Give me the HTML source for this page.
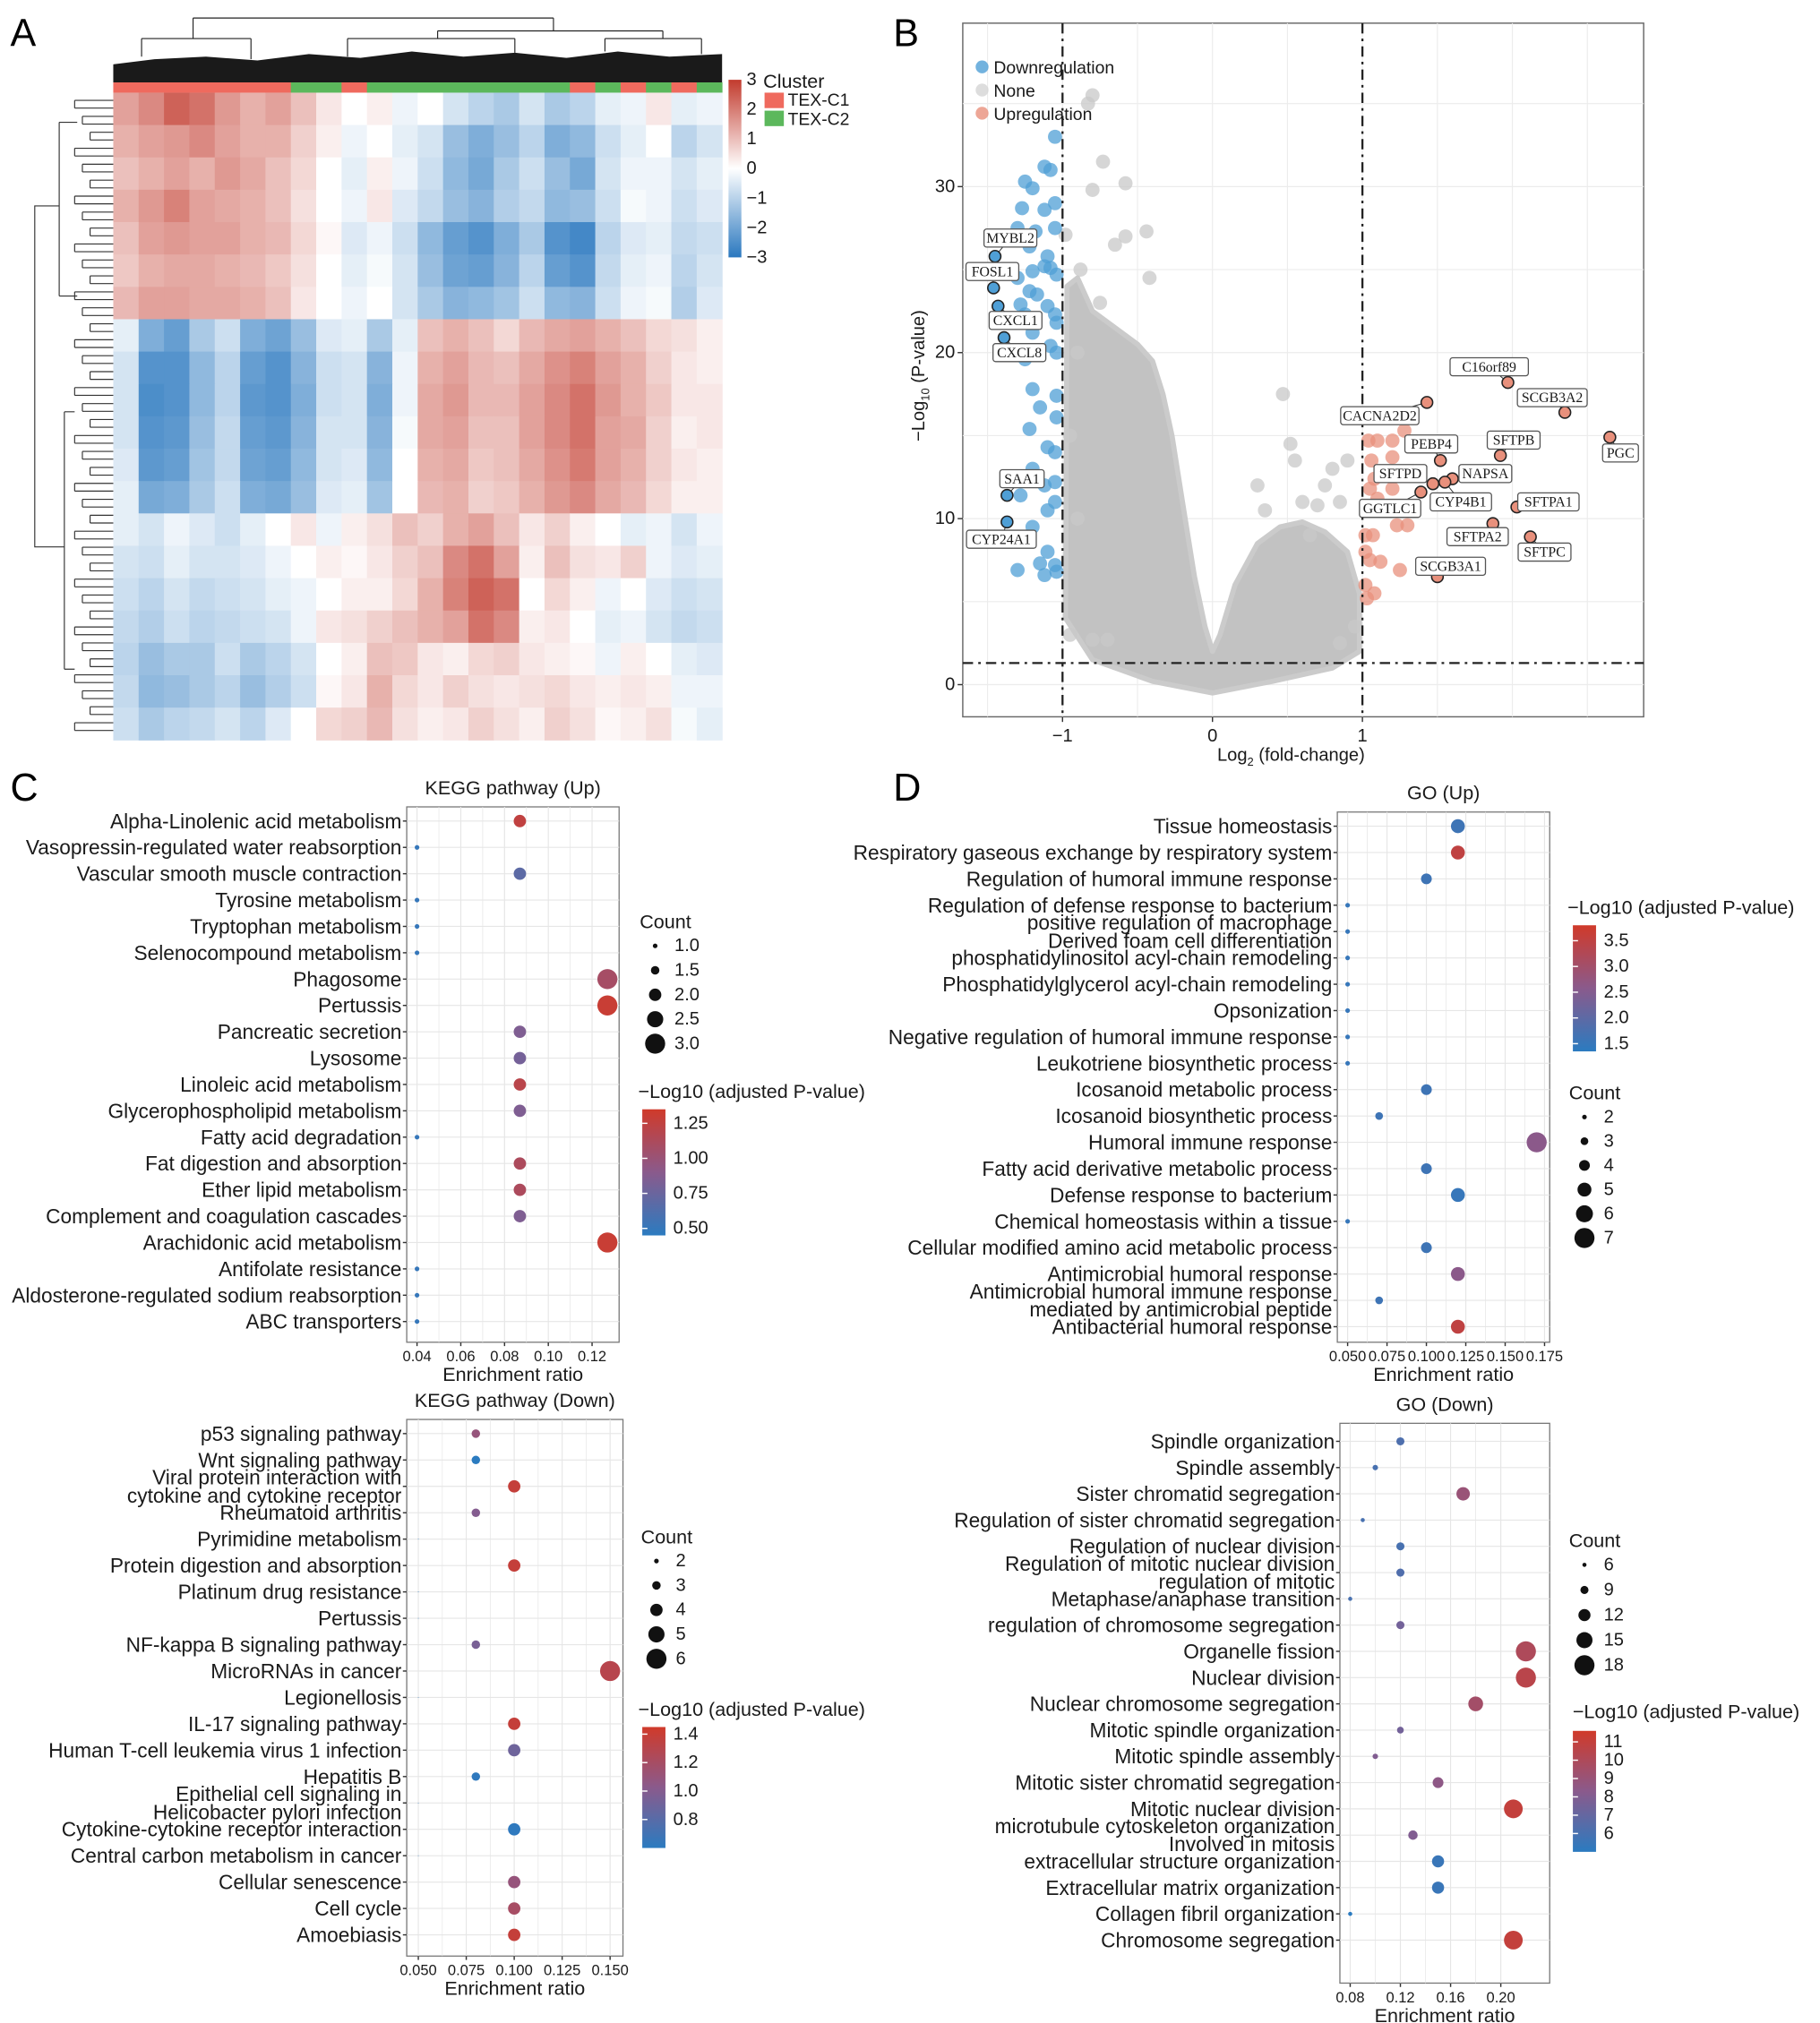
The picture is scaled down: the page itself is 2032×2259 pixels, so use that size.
<!DOCTYPE html>
<html><head><meta charset="utf-8"><title>Figure</title>
<style>
html,body{margin:0;padding:0;background:#fff;}
svg{display:block;font-family:"Liberation Sans",Arial,sans-serif;}
</style></head>
<body>
<svg id="fig" xmlns="http://www.w3.org/2000/svg" width="2032" height="2259" viewBox="0 0 1414 1572" preserveAspectRatio="none">
<defs>
<linearGradient id="hmGrad" x1="0" y1="0" x2="0" y2="1"><stop offset="0" stop-color="#c23b2e"/><stop offset="0.5" stop-color="#ffffff"/><stop offset="1" stop-color="#2a78bf"/></linearGradient>
<linearGradient id="dotGrad" x1="0" y1="0" x2="0" y2="1"><stop offset="0" stop-color="#d03a2a"/><stop offset="0.5" stop-color="#8a5a8c"/><stop offset="1" stop-color="#2b7bc0"/></linearGradient>
</defs>
<text x="8" y="36" font-size="30">A</text>
<text x="694" y="36" font-size="30">B</text>
<text x="8" y="622" font-size="30">C</text>
<text x="694" y="622" font-size="30">D</text>
</svg>
<script>
// ---------------- DATA ----------------
const hmRows = [
[1.2,1.5,2,1.8,1.3,1,1.2,0.8,0.3,0,0.2,-0.2,0,-0.5,-0.8,-1,-0.5,-1,-0.8,-0.3,-0.2,0.3,-0.3,-0.2],
[1,1.2,1.3,1.5,1.2,1,1,0.6,0.2,-0.2,0,-0.3,-0.5,-1.2,-1.5,-1.2,-0.8,-1.5,-1.3,-0.6,-0.3,0,-0.8,-0.5],
[0.8,1,1.2,1,1.3,1.1,0.8,0.5,0,-0.3,0.2,-0.2,-0.6,-1.3,-1.6,-1,-0.6,-1.2,-1.6,-0.5,-0.2,-0.2,-0.5,-0.3],
[1,1.3,1.6,1.2,1.1,1,0.8,0.4,0,-0.2,0.3,-0.4,-0.7,-1.2,-1.4,-0.9,-0.7,-1.3,-1.2,-0.6,-0.1,-0.2,-0.6,-0.4],
[0.8,1.2,1.3,1.2,1.2,1,0.9,0.5,0.1,-0.4,-0.2,-0.6,-1.3,-1.8,-2,-1.5,-1,-2,-2.2,-0.8,-0.4,-0.3,-0.7,-0.6],
[0.7,1,1.1,1.1,1,0.9,0.7,0.4,0,-0.3,-0.1,-0.5,-1.2,-1.7,-1.8,-1.4,-0.8,-1.8,-2,-0.7,-0.3,-0.2,-0.8,-0.5],
[0.9,1.2,1.2,1.1,1.1,1,0.8,0.3,0,-0.2,0,-0.5,-1,-1.4,-1.3,-1.1,-0.6,-1.3,-1.4,-0.6,-0.2,-0.1,-0.9,-0.4],
[-0.3,-1.5,-1.8,-1,-0.6,-1.5,-1.7,-1.2,-0.4,-0.3,-1,-0.3,0.8,1,0.8,0.5,0.9,1.1,1.2,1,0.8,0.5,0.4,0.2],
[-0.5,-2,-2,-1.3,-0.8,-1.8,-2,-1.4,-0.6,-0.5,-1.4,-0.2,1,1.2,0.9,0.8,1.1,1.4,1.6,1.2,1,0.6,0.3,0.2],
[-0.5,-2.1,-2,-1.3,-0.8,-1.9,-2,-1.5,-0.6,-0.5,-1.5,-0.2,1.1,1.3,0.9,0.9,1.2,1.5,1.8,1.3,1,0.7,0.3,0.3],
[-0.5,-2,-1.9,-1.2,-0.7,-1.8,-1.9,-1.4,-0.5,-0.5,-1.4,-0.1,1.1,1.2,0.8,0.8,1.2,1.5,1.8,1.2,1.1,0.6,0.2,0.3],
[-0.4,-1.9,-1.8,-1.1,-0.7,-1.7,-1.8,-1.3,-0.5,-0.4,-1.3,0,1,1.1,0.7,0.8,1.1,1.4,1.7,1.2,1,0.6,0.3,0.2],
[-0.3,-1.6,-1.5,-1,-0.6,-1.5,-1.6,-1.2,-0.4,-0.3,-1.1,0,0.9,1,0.6,0.7,1,1.3,1.5,1.1,0.9,0.5,0.2,0.2],
[-0.3,-0.5,-0.2,-0.4,-0.6,-0.3,0,0.3,-0.2,0.2,0.4,0.8,0.6,1,1.2,0.8,0.3,0.6,0.2,0,-0.3,-0.2,-0.5,-0.2],
[-0.5,-0.6,-0.3,-0.5,-0.5,-0.4,-0.2,0,0.2,0.1,0.3,0.6,0.8,1.5,1.8,1.2,0.2,0.8,0.4,0.3,0.6,-0.2,-0.4,-0.3],
[-0.6,-0.8,-0.5,-0.7,-0.6,-0.5,-0.3,-0.2,0,0.2,0.2,0.5,1,1.6,2,1.8,0,0.5,0.2,-0.2,0,-0.4,-0.6,-0.5],
[-0.7,-0.9,-0.6,-0.8,-0.7,-0.6,-0.5,-0.2,0.3,0.4,0.6,0.8,1,1.2,1.8,1.5,0.2,0.3,0,-0.3,-0.2,-0.5,-0.7,-0.6],
[-0.8,-1.2,-1,-1,-0.6,-1,-0.8,-0.5,0,0.2,0.8,0.7,0.3,0.2,0.5,0.6,0.3,0.2,0.1,-0.2,0.2,0,-0.3,-0.4],
[-0.7,-1.3,-1.2,-1,-0.8,-1.2,-0.9,-0.6,0.1,0.3,1,0.5,0.3,0.6,0.4,0.3,0.4,0.5,0.3,0.2,0.3,0.2,-0.2,-0.2],
[-0.6,-1,-0.8,-0.7,-0.5,-0.8,-0.4,0,0.5,0.6,0.9,0.4,0.2,0.3,0.6,0.4,0.2,0.6,0.4,0.1,0.2,0.4,-0.1,-0.3]
];
const hmCluster = [1,1,1,1,1,1,1,2,2,1,2,2,2,2,2,2,2,2,1,2,1,2,1,2];
const hmScaleTicks = ["3","2","1","0","\u22121","\u22122","\u22123"];

const vDownX = [-1.05,-1.12,-1.08,-1.25,-1.2,-1.27,-1.12,-1.05,-1.3,-1.18,-1.05,-1.22,-1.1,-1.12,-1.08,-1.2,-1.3,-1.22,-1.17,-1.04,-1.1,-1.28,-1.25,-1.05,-1.2,-1.04,-1.08,-1.25,-1.04,-1.2,-1.04,-1.15,-1.04,-1.22,-1.1,-1.05,-1.2,-1.12,-1.05,-1.28,-1.1,-1.05,-1.2,-1.1,-1.05,-1.15,-1.3,-1.12,-1.04];
const vDownY = [33,31.2,31,30.3,29.9,28.7,28.6,29,27.5,27.3,27.5,26.4,25.8,25.2,25.1,24.9,24.5,23.7,23.5,24.7,22.8,22.9,22.3,22.3,21.2,21.8,20.4,19.6,20,17.8,17.4,16.7,16.1,15.4,14.3,14,13,12,12.2,11.4,10.5,11,9.5,8,7.2,7.3,6.9,6.6,6.8];
const vUpX = [1.04,1.1,1.2,1.28,1.06,1.2,1.08,1.05,1.2,1.1,1.23,1.3,1.02,1.07,1.02,1.05,1.12,1.25,1.02,1.03,1.08];
const vUpY = [14.7,14.7,14.7,15.3,13.5,13.7,12.4,11.8,11.8,11.2,9.6,9.6,9,9,8,7.5,7.4,6.9,6,5.2,5.5];
const vNoneX = [-0.8,-0.83,-0.98,-0.73,-0.58,-0.8,-0.44,-0.58,-0.65,-0.42,0.47,0.52,0.55,0.9,0.8,0.6,0.7,0.35,0.85,-0.95,0.95,0.85,-0.7,-0.8,-0.9,-0.95,-0.9,0.3,-0.88,-0.75,0.65,0.75];
const vNoneY = [35.5,35,27.1,31.5,30.2,29.8,27.3,27,26.5,24.5,17.5,14.5,13.5,13.5,13,11,10.8,10.5,11,3,3.5,2.5,2.7,2.7,10,15,20,12,25,23,9,12];
const vCloudX = [-0.97,-0.9,-0.8,-0.65,-0.5,-0.4,-0.33,-0.27,-0.2,-0.12,-0.05,0,0.05,0.15,0.3,0.45,0.6,0.75,0.9,0.98,0.98,0.8,0.4,0,-0.4,-0.8,-0.98];
const vCloudY = [24,24.5,22.5,21.5,20.5,19.5,17.5,15,11,6.5,3.5,2,3,6,8.5,9.5,9.8,9.2,8,5.5,2,1,0.2,-0.5,0.2,1.5,4];
const vLabGenes = ["MYBL2","FOSL1","CXCL1","CXCL8","SAA1","CYP24A1","C16orf89","SCGB3A2","CACNA2D2","PGC","SFTPB","PEBP4","NAPSA","SFTPD","CYP4B1","GGTLC1","SFTPA1","SFTPA2","SFTPC","SCGB3A1"];
const vLabX = [-1.45,-1.46,-1.43,-1.39,-1.37,-1.37,1.97,2.35,1.43,2.65,1.92,1.52,1.6,1.47,1.55,1.39,2.03,1.87,2.12,1.5];
const vLabY = [25.8,23.9,22.8,20.9,11.4,9.8,18.2,16.4,17.0,14.9,13.8,13.5,12.4,12.1,12.2,11.6,10.7,9.7,8.9,6.5];
const vLabDir = [-1,-1,-1,-1,-1,-1,1,1,1,1,1,1,1,1,1,1,1,1,1,1];
const vLabBoxCX = [785,771,789,792,794,778,1157,1206,1072,1259,1176,1112,1154,1088,1135,1080,1203,1148,1200,1127];
const vLabBoxCY = [185,211,249,274,372,419,285,309,323,352,342,345,368,368,390,395,390,417,429,440];
const vXTicks = [-1,0,1];
const vXTickLabels = ["\u22121","0","1"];
const vYTicks = [0,10,20,30];

const keggUpTerms = ["Alpha-Linolenic acid metabolism","Vasopressin-regulated water reabsorption","Vascular smooth muscle contraction","Tyrosine metabolism","Tryptophan metabolism","Selenocompound metabolism","Phagosome","Pertussis","Pancreatic secretion","Lysosome","Linoleic acid metabolism","Glycerophospholipid metabolism","Fatty acid degradation","Fat digestion and absorption","Ether lipid metabolism","Complement and coagulation cascades","Arachidonic acid metabolism","Antifolate resistance","Aldosterone-regulated sodium reabsorption","ABC transporters"];
const keggUpRatio = [0.087,0.04,0.087,0.04,0.04,0.04,0.127,0.127,0.087,0.087,0.087,0.087,0.04,0.087,0.087,0.087,0.127,0.04,0.04,0.04];
const keggUpCount = [2,1,2,1,1,1,3,3,2,2,2,2,1,2,2,2,3,1,1,1];
const keggUpP = [1.25,0.5,0.68,0.5,0.5,0.5,1.08,1.3,0.85,0.8,1.2,0.85,0.5,1.12,1.12,0.85,1.3,0.5,0.5,0.5];
const keggUpTicks = [0.04,0.06,0.08,0.10,0.12];
const keggUpTickLabels = ["0.04","0.06","0.08","0.10","0.12"];
const keggUpCountLeg = [1.0,1.5,2.0,2.5,3.0];
const keggUpCountLegLab = ["1.0","1.5","2.0","2.5","3.0"];
const keggUpPLeg = [1.25,1.00,0.75,0.50];
const keggUpPLegLab = ["1.25","1.00","0.75","0.50"];

const keggDnTerms = ["p53 signaling pathway","Wnt signaling pathway","Viral protein interaction with|cytokine and cytokine receptor","Rheumatoid arthritis","Pyrimidine metabolism","Protein digestion and absorption","Platinum drug resistance","Pertussis","NF-kappa B signaling pathway","MicroRNAs in cancer","Legionellosis","IL-17 signaling pathway","Human T-cell leukemia virus 1 infection","Hepatitis B","Epithelial cell signaling in|Helicobacter pylori infection","Cytokine-cytokine receptor interaction","Central carbon metabolism in cancer","Cellular senescence","Cell cycle","Amoebiasis"];
const keggDnRatio = [0.08,0.08,0.1,0.08,0.05,0.1,0.05,0.05,0.08,0.15,0.05,0.1,0.1,0.08,0.05,0.1,0.05,0.1,0.1,0.1];
const keggDnCount = [3,3,4,3,1,4,1,1,3,6,1,4,4,3,1,4,1,4,4,4];
const keggDnP = [1.1,0.6,1.38,1.0,0.6,1.38,0.6,0.6,0.95,1.3,0.6,1.38,0.9,0.62,0.6,0.62,0.6,1.1,1.2,1.38];
const keggDnTicks = [0.05,0.075,0.1,0.125,0.15];
const keggDnTickLabels = ["0.050","0.075","0.100","0.125","0.150"];
const keggDnCountLeg = [2,3,4,5,6];
const keggDnCountLegLab = ["2","3","4","5","6"];
const keggDnPLeg = [1.4,1.2,1.0,0.8];
const keggDnPLegLab = ["1.4","1.2","1.0","0.8"];

const goUpTerms = ["Tissue homeostasis","Respiratory gaseous exchange by respiratory system","Regulation of humoral immune response","Regulation of defense response to bacterium","positive regulation of macrophage|Derived foam cell differentiation","phosphatidylinositol acyl-chain remodeling","Phosphatidylglycerol acyl-chain remodeling","Opsonization","Negative regulation of humoral immune response","Leukotriene biosynthetic process","Icosanoid metabolic process","Icosanoid biosynthetic process","Humoral immune response","Fatty acid derivative metabolic process","Defense response to bacterium","Chemical homeostasis within a tissue","Cellular modified amino acid metabolic process","Antimicrobial humoral response","Antimicrobial humoral immune response|mediated by antimicrobial peptide","Antibacterial humoral response"];
const goUpRatio = [0.12,0.12,0.1,0.05,0.05,0.05,0.05,0.05,0.05,0.05,0.1,0.07,0.17,0.1,0.12,0.05,0.1,0.12,0.07,0.12];
const goUpCount = [5,5,4,2,2,2,2,2,2,2,4,3,7,4,5,2,4,5,3,5];
const goUpP = [1.6,3.5,1.6,1.5,1.5,1.5,1.5,1.5,1.5,1.5,1.6,1.6,2.6,1.6,1.5,1.5,1.6,2.6,1.6,3.5];
const goUpTicks = [0.05,0.075,0.1,0.125,0.15,0.175];
const goUpTickLabels = ["0.050","0.075","0.100","0.125","0.150","0.175"];
const goUpCountLeg = [2,3,4,5,6,7];
const goUpCountLegLab = ["2","3","4","5","6","7"];
const goUpPLeg = [3.5,3.0,2.5,2.0,1.5];
const goUpPLegLab = ["3.5","3.0","2.5","2.0","1.5"];

const goDnTerms = ["Spindle organization","Spindle assembly","Sister chromatid segregation","Regulation of sister chromatid segregation","Regulation of nuclear division","Regulation of mitotic nuclear division|regulation of mitotic","Metaphase/anaphase transition","regulation of chromosome segregation","Organelle fission","Nuclear division","Nuclear chromosome segregation","Mitotic spindle organization","Mitotic spindle assembly","Mitotic sister chromatid segregation","Mitotic nuclear division","microtubule cytoskeleton organization|Involved in mitosis","extracellular structure organization","Extracellular matrix organization","Collagen fibril organization","Chromosome segregation"];
const goDnRatio = [0.12,0.10,0.17,0.09,0.12,0.12,0.08,0.12,0.22,0.22,0.18,0.12,0.10,0.15,0.21,0.13,0.15,0.15,0.08,0.21];
const goDnCount = [9,7,13,6,9,9,6,9,18,18,14,8,7,11,17,10,12,12,6,17];
const goDnP = [6.2,6,9,6,6,6.3,6,7.5,10,10.5,9.5,7.5,8,8.5,11,8,5.5,5.5,5,11];
const goDnTicks = [0.08,0.12,0.16,0.20];
const goDnTickLabels = ["0.08","0.12","0.16","0.20"];
const goDnCountLeg = [6,9,12,15,18];
const goDnCountLegLab = ["6","9","12","15","18"];
const goDnPLeg = [11,10,9,8,7,6];
const goDnPLegLab = ["11","10","9","8","7","6"];

// ---------------- HELPERS ----------------
const NS = "http://www.w3.org/2000/svg";
const svg = document.getElementById("fig");
function mk(tag, attrs, name, parent) {
  const el = document.createElementNS(NS, tag);
  for (const k in attrs) el.setAttribute(k, attrs[k]);
  
  
  (parent || svg).appendChild(el);
  return el;
}
function txt(x, y, s, size, anchor, name, extra) {
  const a = Object.assign({x: x, y: y, "font-size": size, "text-anchor": anchor || "start", "dominant-baseline": "central", fill: "#1a1a1a"}, extra || {});
  const t = mk("text", a, name);
  t.textContent = s;
  return t;
}
function hex(c){return [parseInt(c.slice(1,3),16),parseInt(c.slice(3,5),16),parseInt(c.slice(5,7),16)];}
function lerp(a,b,t){const A=hex(a),B=hex(b);return "rgb("+A.map((v,i)=>Math.round(v+(B[i]-v)*t)).join(",")+")";}
function hmColor(v){const t=Math.min(Math.abs(v)/2.5,1);return v>=0?lerp("#ffffff","#c23b2e",t):lerp("#ffffff","#2a78bf",t);}
function dotColor(t){t=Math.max(0,Math.min(1,t));return t<0.5?lerp("#2b7bc0","#8a5a8c",t*2):lerp("#8a5a8c","#d03a2a",(t-0.5)*2);}

// ---------------- PANEL A: HEATMAP ----------------
(function(){
  const x0=88,x1=561,y0=72,y1=575;
  const nR=hmRows.length,nC=hmRows[0].length;
  const cw=(x1-x0)/nC, rh=(y1-y0)/nR;
  const g=mk("g",{},"heatmap");
  hmRows.forEach((row,r)=>{row.forEach((v,c)=>{
    mk("rect",{x:x0+c*cw,y:y0+r*rh,width:cw+0.4,height:rh+0.4,fill:hmColor(v)},"heatmap-cell",g);
  });});
  hmCluster.forEach((k,c)=>{
    mk("rect",{x:x0+c*cw,y:64,width:cw+0.3,height:8,fill:k===1?"#ef6a5e":"#5cb85c"},"cluster-annotation-cell");
  });
  // top dendrogram
  const dg=mk("g",{stroke:"#222","stroke-width":0.8,fill:"none"},"top-dendrogram");
  mk("polygon",{points:"88,64 88,50 120,46 160,44 200,47 240,42 280,45 320,40 360,44 400,41 440,45 480,40 520,44 561,42 561,64",fill:"#1a1a1a",stroke:"none"},"top-dendrogram-leaves",dg);
  const tl=[[150,14,150,30],[430,14,430,24],[110,30,195,30],[110,30,110,44],[195,30,195,46],[340,24,515,24],[340,24,340,30],[515,24,515,30],[270,30,400,30],[270,30,270,44],[400,30,400,41],[470,30,545,30],[470,30,470,40],[545,30,545,42],[150,14,430,14]];
  tl.forEach(l=>mk("line",{x1:l[0],y1:l[1],x2:l[2],y2:l[3]},"dendrogram-branch",dg));
  // left dendrogram
  const lg=mk("g",{stroke:"#333","stroke-width":0.8,fill:"none"},"left-dendrogram");
  mk("path",{d:"M46,160 H27 V425 H50 M46,160 V95 M46,160 V230 M46,95 H60 M46,230 H60 M50,425 V320 M50,425 V520 M50,320 H58 M50,520 H58"},"left-dendrogram-main",lg);
  for(let i=0;i<40;i++){
    const y=y0+6+i*12.4, xl=58+(i%3)*6;
    mk("path",{d:"M"+xl+","+y+" V"+(y+6)+" M"+xl+","+y+" H88 M"+xl+","+(y+6)+" H88"},"left-dendrogram-leaf",lg);
  }
  mk("rect",{x:566,y:62,width:10,height:138,fill:"url(#hmGrad)"},"heatmap-colorbar");
  hmScaleTicks.forEach((s,i)=>txt(580,62+i*23,s,14,"start","heatmap-colorbar-tick"));
  txt(593,63,"Cluster",15,"start","cluster-legend-title");
  mk("rect",{x:594,y:72,width:15,height:12,fill:"#ef6a5e"},"cluster-legend-swatch-c1");
  mk("rect",{x:594,y:86,width:15,height:12,fill:"#5cb85c"},"cluster-legend-swatch-c2");
  txt(612,78,"TEX-C1",13.5,"start","cluster-legend-label-c1");
  txt(612,93,"TEX-C2",13.5,"start","cluster-legend-label-c2");
})();

// ---------------- PANEL B: VOLCANO ----------------
(function(){
  const fx0=748,fx1=1277,fy0=18,fy1=557;
  const xs=v=>942+v*116.5, ys=v=>532-v*12.9;
  mk("rect",{x:fx0,y:fy0,width:fx1-fx0,height:fy1-fy0,fill:"#fff",stroke:"#666","stroke-width":1},"volcano-frame");
  const gg=mk("g",{stroke:"#ececec","stroke-width":0.8},"volcano-grid");
  [-1.5,-1,-0.5,0,0.5,1,1.5,2,2.5].forEach(v=>mk("line",{x1:xs(v),x2:xs(v),y1:fy0,y2:fy1},"volcano-grid-v",gg));
  [0,5,10,15,20,25,30,35].forEach(v=>mk("line",{x1:fx0,x2:fx1,y1:ys(v),y2:ys(v)},"volcano-grid-h",gg));
  mk("polygon",{points:vCloudX.map((x,i)=>xs(x)+","+ys(vCloudY[i])).join(" "),fill:"#c2c2c2",stroke:"#cbcbcb","stroke-width":4,"stroke-linejoin":"round"},"volcano-none-cloud");
  vNoneX.forEach((x,i)=>mk("circle",{cx:xs(x),cy:ys(vNoneY[i]),r:5.5,fill:"#c8c8c8","fill-opacity":0.75},"volcano-point-none"));
  vDownX.forEach((x,i)=>mk("circle",{cx:xs(x),cy:ys(vDownY[i]),r:5.5,fill:"#4f9fd6","fill-opacity":0.75},"volcano-point-down"));
  vUpX.forEach((x,i)=>mk("circle",{cx:xs(x),cy:ys(vUpY[i]),r:5.5,fill:"#e8907c","fill-opacity":0.75},"volcano-point-up"));
  mk("line",{x1:xs(-1),x2:xs(-1),y1:fy0,y2:fy1,stroke:"#222","stroke-width":1.6,"stroke-dasharray":"8,4,2,4"},"threshold-line-left");
  mk("line",{x1:xs(1),x2:xs(1),y1:fy0,y2:fy1,stroke:"#222","stroke-width":1.6,"stroke-dasharray":"8,4,2,4"},"threshold-line-right");
  mk("line",{x1:fx0,x2:fx1,y1:ys(1.3),y2:ys(1.3),stroke:"#222","stroke-width":1.6,"stroke-dasharray":"8,4,2,4"},"threshold-line-pvalue");
  vLabGenes.forEach((g,i)=>{
    const px=xs(vLabX[i]),py=ys(vLabY[i]);
    const bw=g.length*6.6+8,bh=14,bx=vLabBoxCX[i],by=vLabBoxCY[i];
    mk("line",{x1:px,y1:py,x2:bx,y2:by,stroke:"#333","stroke-width":0.7},"gene-label-leader");
    mk("circle",{cx:px,cy:py,r:4.5,fill:vLabDir[i]<0?"#4f9fd6":"#e8907c",stroke:"#222","stroke-width":1.1},"volcano-labeled-point");
    mk("rect",{x:bx-bw/2,y:by-bh/2,width:bw,height:bh,rx:2,fill:"#fff",stroke:"#555","stroke-width":0.9},"gene-label-box");
    txt(bx,by+0.5,g,11,"middle","gene-label",{"font-family":"Liberation Serif, serif"});
  });
  vXTicks.forEach((v,i)=>{mk("line",{x1:xs(v),x2:xs(v),y1:fy1,y2:fy1+4,stroke:"#333"},"volcano-x-tick");txt(xs(v),fy1+15,vXTickLabels[i],14,"middle","volcano-x-tick-label");});
  vYTicks.forEach(v=>{mk("line",{x1:fx0-4,x2:fx0,y1:ys(v),y2:ys(v),stroke:"#333"},"volcano-y-tick");txt(fx0-6,ys(v),String(v),14,"end","volcano-y-tick-label");});
  const xt=mk("text",{x:1003,y:591,"font-size":14,"text-anchor":"middle",fill:"#1a1a1a"},"volcano-x-axis-title");
  xt.innerHTML='Log<tspan font-size="9" dy="4">2</tspan><tspan dy="-4"> (fold-change)</tspan>';
  const yt=mk("text",{x:0,y:0,"font-size":14,"text-anchor":"middle",fill:"#1a1a1a",transform:"translate(718,292) rotate(-90)"},"volcano-y-axis-title");
  yt.innerHTML='\u2212Log<tspan font-size="9" dy="4">10</tspan><tspan dy="-4"> (P-value)</tspan>';
  [["#4f9fd6","Downregulation",52],["#d5d5d5","None",70],["#e8907c","Upregulation",88]].forEach(l=>{
    mk("circle",{cx:763,cy:l[2],r:5,fill:l[0],"fill-opacity":0.8},"volcano-legend-swatch");
    txt(772,l[2]+1,l[1],13.5,"start","volcano-legend-label");
  });
})();

// ---------------- DOT PLOTS ----------------
function dotplot(c){
  const xs=v=>c.xa+(v-c.v0)*c.k, ys=i=>c.r0+i*c.rs;
  mk("rect",{x:c.fx0,y:c.fy0,width:c.fx1-c.fx0,height:c.fy1-c.fy0,fill:"#fff",stroke:"#777","stroke-width":0.9},c.id+"-frame");
  const g=mk("g",{stroke:"#e6e6e6","stroke-width":0.8},c.id+"-grid");
  c.ticks.forEach((t,i)=>{
    mk("line",{x1:xs(t),x2:xs(t),y1:c.fy0,y2:c.fy1},c.id+"-grid-major",g);
    if(i<c.ticks.length-1){const m=(t+c.ticks[i+1])/2;mk("line",{x1:xs(m),x2:xs(m),y1:c.fy0,y2:c.fy1,"stroke-width":0.5},c.id+"-grid-minor",g);}
  });
  c.terms.forEach((t,i)=>mk("line",{x1:c.fx0,x2:c.fx1,y1:ys(i),y2:ys(i)},c.id+"-grid-row",g));
  c.terms.forEach((t,i)=>{
    const lines=t.split("|");
    lines.forEach((s,j)=>txt(c.fx0-4,ys(i)+(j-(lines.length-1)/2)*14,s,15.8,"end",c.id+"-term-label"));
    mk("line",{x1:c.fx0-3,x2:c.fx0,y1:ys(i),y2:ys(i),stroke:"#333"},c.id+"-y-tick");
  });
  const rad=n=>c.rMin+(n-c.cMin)/(c.cMax-c.cMin)*(c.rMax-c.rMin);
  const col=p=>dotColor((p-c.pMin)/(c.pMax-c.pMin));
  c.ratio.forEach((v,i)=>{
    mk("circle",{cx:xs(v),cy:ys(i),r:rad(c.count[i]),fill:col(c.p[i])},c.id+"-dot");
  });
  c.ticks.forEach((t,i)=>{
    mk("line",{x1:xs(t),x2:xs(t),y1:c.fy1,y2:c.fy1+3,stroke:"#333"},c.id+"-x-tick");
    txt(xs(t),c.fy1+11,c.tickLabels[i],11.5,"middle",c.id+"-x-tick-label");
  });
  txt((c.fx0+c.fx1)/2,c.fy1+25,"Enrichment ratio",15,"middle",c.id+"-x-axis-title");
  txt((c.fx0+c.fx1)/2,c.fy0-15,c.title,15,"middle",c.id+"-title");
  txt(c.cLegX+8,c.cLegY0-19,"Count",15,"middle",c.id+"-count-legend-title");
  c.cLeg.forEach((n,i)=>{
    const y=c.cLegY0+i*c.cLegStep;
    mk("circle",{cx:c.cLegX,cy:y,r:rad(n),fill:"#111"},c.id+"-count-legend-dot");
    txt(c.cLegX+15,y,c.cLegLab[i],14,"start",c.id+"-count-legend-label");
  });
  txt(c.pLegTitleX,c.pLegTitleY,"\u2212Log10 (adjusted P-value)",15,"middle",c.id+"-color-legend-title");
  mk("rect",{x:c.barX,y:c.barY0,width:18,height:c.barY1-c.barY0,fill:"url(#dotGrad)"},c.id+"-colorbar");
  c.pLeg.forEach((p,i)=>{
    const y=c.barY1-(p-c.pMin)/(c.pMax-c.pMin)*(c.barY1-c.barY0);
    mk("line",{x1:c.barX,x2:c.barX+4,y1:y,y2:y,stroke:"#fff"},c.id+"-colorbar-tick");
    txt(c.barX+24,y,c.pLegLab[i],14,"start",c.id+"-colorbar-label");
  });
}

dotplot({id:"kegg-up",title:"KEGG pathway (Up)",fx0:316,fx1:481,fy0:627,fy1:1043,xa:324,v0:0.04,k:1700,r0:638,rs:20.47,
  terms:keggUpTerms,ratio:keggUpRatio,count:keggUpCount,p:keggUpP,ticks:keggUpTicks,tickLabels:keggUpTickLabels,
  rMin:1.8,rMax:7.8,cMin:1,cMax:3,pMin:0.45,pMax:1.35,
  cLeg:keggUpCountLeg,cLegLab:keggUpCountLegLab,cLegX:509,cLegY0:735,cLegStep:19,
  pLeg:keggUpPLeg,pLegLab:keggUpPLegLab,pLegTitleX:584,pLegTitleY:848,barX:499,barY0:862,barY1:960});

dotplot({id:"kegg-down",title:"KEGG pathway (Down)",fx0:316,fx1:484,fy0:1103,fy1:1520,xa:325,v0:0.05,k:1490,r0:1114,rs:20.5,
  terms:keggDnTerms,ratio:keggDnRatio,count:keggDnCount,p:keggDnP,ticks:keggDnTicks,tickLabels:keggDnTickLabels,
  rMin:1.8,rMax:7.8,cMin:2,cMax:6,pMin:0.6,pMax:1.45,
  cLeg:keggDnCountLeg,cLegLab:keggDnCountLegLab,cLegX:510,cLegY0:1213,cLegStep:19,
  pLeg:keggDnPLeg,pLegLab:keggDnPLegLab,pLegTitleX:584,pLegTitleY:1328,barX:499,barY0:1342,barY1:1436});

dotplot({id:"go-up",title:"GO (Up)",fx0:1039,fx1:1204,fy0:631,fy1:1043,xa:1047,v0:0.05,k:1224,r0:642,rs:20.47,
  terms:goUpTerms,ratio:goUpRatio,count:goUpCount,p:goUpP,ticks:goUpTicks,tickLabels:goUpTickLabels,
  rMin:1.8,rMax:7.8,cMin:2,cMax:7,pMin:1.35,pMax:3.8,
  cLeg:goUpCountLeg,cLegLab:goUpCountLegLab,cLegX:1231,cLegY0:868,cLegStep:18.8,
  pLeg:goUpPLeg,pLegLab:goUpPLegLab,pLegTitleX:1306,pLegTitleY:705,barX:1222,barY0:719,barY1:817});

dotplot({id:"go-down",title:"GO (Down)",fx0:1041,fx1:1204,fy0:1106,fy1:1541,xa:1049,v0:0.08,k:975,r0:1120,rs:20.4,
  terms:goDnTerms,ratio:goDnRatio,count:goDnCount,p:goDnP,ticks:goDnTicks,tickLabels:goDnTickLabels,
  rMin:1.6,rMax:7.8,cMin:6,cMax:18,pMin:5,pMax:11.6,
  cLeg:goDnCountLeg,cLegLab:goDnCountLegLab,cLegX:1231,cLegY0:1216,cLegStep:19.5,
  pLeg:goDnPLeg,pLegLab:goDnPLegLab,pLegTitleX:1310,pLegTitleY:1330,barX:1222,barY0:1345,barY1:1439});
</script>
</body></html>
